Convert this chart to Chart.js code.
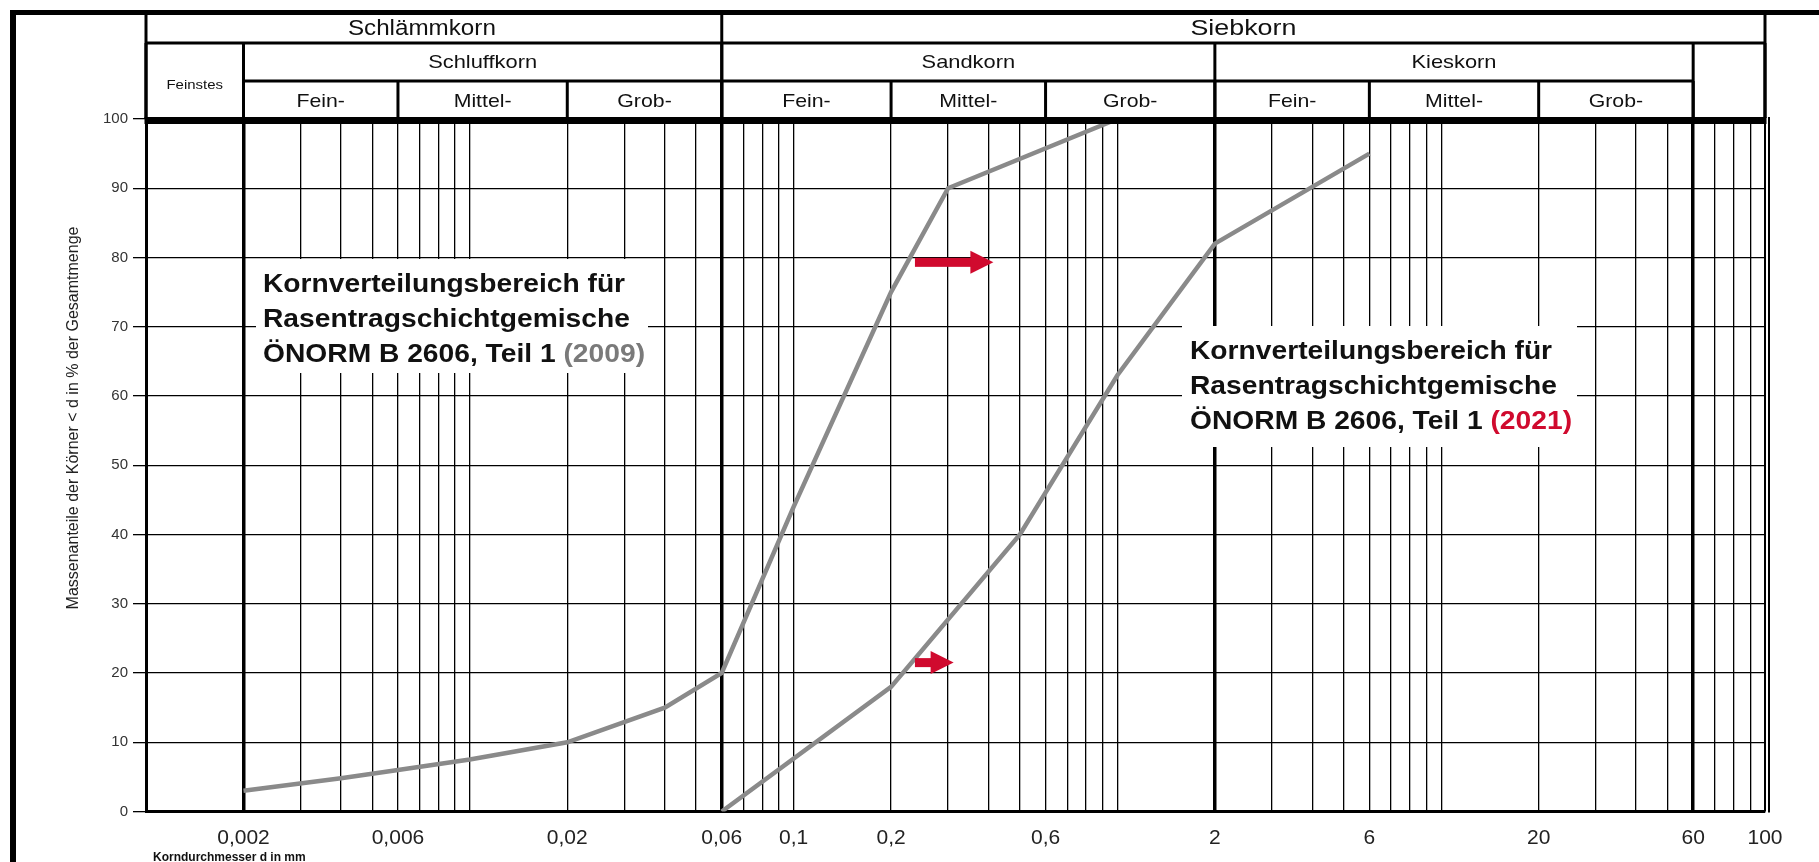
<!DOCTYPE html>
<html>
<head>
<meta charset="utf-8">
<script src="https://cdn.jsdelivr.net/npm/chart.js@4.4.1/dist/chart.umd.min.js"></script>
<style>
  html, body { margin: 0; padding: 0; background: #fff; overflow: hidden; }
</style>
</head>
<body>
<canvas id="sieblinie" width="1819" height="862"></canvas>
<script>
// Sieblinien (Korndurchmesser in mm / Siebdurchgang in %)
const d2009 = [0.002, 0.004, 0.006, 0.01, 0.02, 0.04, 0.06, 0.1, 0.2, 0.3, 1];
const p2009 = [3, 4.8, 6, 7.5, 10, 15, 20, 44, 75, 90, 100];
const d2021 = [0.06, 0.2, 0.5, 1, 2, 6];
const p2021 = [0, 18, 40, 63, 82, 95];

// Achsen
const xTickValues = [0.002, 0.006, 0.02, 0.06, 0.1, 0.2, 0.6, 2, 6, 20, 60, 100];
const xTickTexts = ['0,002', '0,006', '0,02', '0,06', '0,1', '0,2', '0,6', '2', '6', '20', '60', '100'];
const yTicks = [0, 10, 20, 30, 40, 50, 60, 70, 80, 90, 100];
const dickeLinien = [0.002, 0.06, 2, 60];

// Kopftabelle
const kornGruppen = ['Schlämmkorn', 'Siebkorn'];
const kornGruppenGrenzen = [0.001, 0.06, 100];
const kornArten = ['Feinstes', 'Schluffkorn', 'Sandkorn', 'Kieskorn', ''];
const kornArtenGrenzen = [0.001, 0.002, 0.06, 2, 60, 100];
const stufen = ['Fein-', 'Mittel-', 'Grob-', 'Fein-', 'Mittel-', 'Grob-', 'Fein-', 'Mittel-', 'Grob-'];
const stufenGrenzen = [0.002, 0.006, 0.02, 0.06, 0.2, 0.6, 2, 6, 20, 60];

// rote Pfeile (Verschiebung 2009 -> 2021)
const pfeilVon = [0.237, 0.237];
const pfeilBis = [0.414, 0.312];
const pfeilHoehe = [79.3, 21.5];

// Rasterlinien 1..9 je Dekade
const rasterWerte = [];
for (let k = -3; k <= 1; k++) {
  for (let n = 1; n <= 9; n++) rasterWerte.push(+(n * Math.pow(10, k)).toPrecision(6));
}
rasterWerte.push(100);

const gleich = (a, b) => Math.abs(a / b - 1) < 1e-6;
const SCHRIFT = "Arial, 'Liberation Sans', sans-serif";
const ROT = '#d00a2e';

const rahmenPlugin = {
  id: 'rahmen',
  beforeDraw(chart) {
    const ctx = chart.ctx;
    ctx.save();
    ctx.fillStyle = '#fff';
    ctx.fillRect(0, 0, chart.width, chart.height);
    ctx.restore();
  },
  beforeDatasetsDraw(chart) {
    const ctx = chart.ctx;
    // weisse Textfelder ueber dem Raster
    ctx.save();
    ctx.fillStyle = '#fff';
    ctx.fillRect(256, 259, 392, 114);
    ctx.fillRect(1182, 326, 395, 121);
    ctx.restore();
    textBlock(ctx, 263, 292, '(2009)', '#7a7a7a');
    textBlock(ctx, 1190, 359, '(2021)', ROT);
  },
  afterDraw(chart) {
    const ctx = chart.ctx;
    const x = chart.scales.x;
    const y = chart.scales.y;
    const px = v => x.getPixelForValue(v);
    const top = chart.chartArea.top, bottom = chart.chartArea.bottom;

    ctx.save();
    ctx.fillStyle = '#000';
    // Aussenrahmen
    ctx.fillRect(10, 10, 6, chart.height - 10);
    ctx.fillRect(10, 10, chart.width - 10, 5);
    // dicke Oberkante des Diagramms
    ctx.fillRect(px(0.001) - 1.5, top - 2, px(100) - px(0.001) + 3, 7);
    // Doppellinie bei 100
    ctx.fillRect(px(100) - 1, top, 2, bottom - top);
    ctx.fillRect(px(100) + 3, top - 2, 2, bottom - top + 3);

    // Kopftabelle
    const r0 = 13, r1 = 43, r2 = 81, r3 = top - 1;
    ctx.strokeStyle = '#000';
    ctx.lineWidth = 3;
    const linie = (x1, y1, x2, y2) => { ctx.beginPath(); ctx.moveTo(x1, y1); ctx.lineTo(x2, y2); ctx.stroke(); };
    linie(px(0.001), r1, px(100), r1);
    linie(px(0.002), r2, px(60), r2);
    kornGruppenGrenzen.forEach(v => linie(px(v), r0, px(v), r3));
    kornArtenGrenzen.forEach(v => linie(px(v), r1, px(v), r3));
    stufenGrenzen.forEach(v => linie(px(v), r2, px(v), r3));

    ctx.fillStyle = '#111';
    ctx.textAlign = 'center';
    ctx.textBaseline = 'middle';
    kornGruppen.forEach((t, i) => {
      const m = (px(kornGruppenGrenzen[i]) + px(kornGruppenGrenzen[i + 1])) / 2;
      const sx = i === 0 ? 1.1 : 1.22;
      gestreckt(ctx, t, m - (i === 0 ? 12 : 0), (r0 + r1) / 2 + 1, '22px ' + SCHRIFT, sx);
    });
    kornArten.forEach((t, i) => {
      const m = (px(kornArtenGrenzen[i]) + px(kornArtenGrenzen[i + 1])) / 2;
      if (i === 0) gestreckt(ctx, t, m, 85, '13px ' + SCHRIFT, 1.15);
      else gestreckt(ctx, t, m, (r1 + r2) / 2 + 1, '19px ' + SCHRIFT, 1.15);
    });
    stufen.forEach((t, i) => {
      const m = (px(stufenGrenzen[i]) + px(stufenGrenzen[i + 1])) / 2;
      gestreckt(ctx, t, m, (r2 + r3) / 2 + 2.5, '19px ' + SCHRIFT, 1.12);
    });

    // Achsentitel
    ctx.save();
    ctx.translate(74, 418);
    ctx.rotate(-Math.PI / 2);
    ctx.font = '16px ' + SCHRIFT;
    ctx.fillStyle = '#222';
    ctx.fillText('Massenanteile der Körner < d in % der Gesamtmenge', 0, 0);
    ctx.restore();

    ctx.font = 'bold 12px ' + SCHRIFT;
    ctx.textAlign = 'left';
    ctx.fillStyle = '#111';
    ctx.fillText('Korndurchmesser d in mm', 153, 858);

    // Pfeile
    pfeilVon.forEach((v, i) => {
      const xa = px(v), xb = px(pfeilBis[i]), yy = y.getPixelForValue(pfeilHoehe[i]);
      const kopf = 23;
      ctx.fillStyle = ROT;
      ctx.fillRect(xa, yy - 4.5, xb - xa - kopf + 2, 9);
      ctx.beginPath();
      ctx.moveTo(xb - kopf, yy - 11.5);
      ctx.lineTo(xb, yy);
      ctx.lineTo(xb - kopf, yy + 11.5);
      ctx.closePath();
      ctx.fill();
    });
    ctx.restore();
  }
};

function gestreckt(ctx, text, x, y, font, sx) {
  ctx.save();
  ctx.font = font;
  ctx.translate(x, y);
  ctx.scale(sx, 1);
  ctx.fillText(text, 0, 0);
  ctx.restore();
}

function textBlock(ctx, x, y, jahr, farbe) {
  const zeilen = ['Kornverteilungsbereich für', 'Rasentragschichtgemische', 'ÖNORM B 2606, Teil 1 '];
  const sx = 1.085;
  ctx.save();
  ctx.font = 'bold 26px ' + SCHRIFT;
  ctx.textAlign = 'left';
  ctx.textBaseline = 'alphabetic';
  ctx.translate(x, y);
  ctx.scale(sx, 1);
  zeilen.forEach((z, i) => {
    ctx.fillStyle = '#111';
    ctx.fillText(z, 0, i * 35);
  });
  const w = ctx.measureText(zeilen[2]).width;
  ctx.fillStyle = farbe;
  ctx.fillText(jahr, w, 70);
  ctx.restore();
}

new Chart(document.getElementById('sieblinie'), {
  type: 'line',
  data: {
    datasets: [
      {
        label: '2009',
        data: d2009.map((d, i) => ({ x: d, y: p2009[i] })),
        borderColor: '#8a8a8a',
        borderWidth: 4.5,
        pointRadius: 0,
        tension: 0,
        fill: false
      },
      {
        label: '2021',
        data: d2021.map((d, i) => ({ x: d, y: p2021[i] })),
        borderColor: '#8a8a8a',
        borderWidth: 4.5,
        pointRadius: 0,
        tension: 0,
        fill: false
      }
    ]
  },
  options: {
    responsive: false,
    animation: false,
    events: [],
    layout: { padding: { top: 119, right: 54, left: 0, bottom: 0 } },
    plugins: {
      legend: { display: false },
      tooltip: { enabled: false },
      title: { display: false }
    },
    scales: {
      x: {
        type: 'logarithmic',
        min: 0.001,
        max: 100,
        afterBuildTicks: s => { s.ticks = rasterWerte.map(v => ({ value: v })); },
        afterFit: s => { s.height = 50.5; },
        ticks: {
          autoSkip: false,
          maxRotation: 0,
          minRotation: 0,
          padding: 14,
          color: '#222',
          font: { family: SCHRIFT, size: 21 },
          callback: function(value) {
            const i = xTickValues.findIndex(v => gleich(v, value));
            return i >= 0 ? xTickTexts[i] : '';
          }
        },
        grid: {
          color: '#000',
          drawTicks: false,
          lineWidth: c => {
            if (!c.tick) return 1.3;
            if (dickeLinien.some(v => gleich(v, c.tick.value))) return 3.5;
            return 1.3;
          }
        },
        border: { color: '#000', width: 3 }
      },
      y: {
        min: 0,
        max: 100,
        afterBuildTicks: s => { s.ticks = yTicks.map(v => ({ value: v })); },
        afterFit: s => { s.width = 146; },
        ticks: {
          padding: 5,
          color: '#333',
          font: { family: SCHRIFT, size: 15 }
        },
        grid: { color: '#000', lineWidth: 1.3, tickLength: 13 },
        border: { color: '#000', width: 3 }
      }
    }
  },
  plugins: [rahmenPlugin]
});
</script>
</body>
</html>
